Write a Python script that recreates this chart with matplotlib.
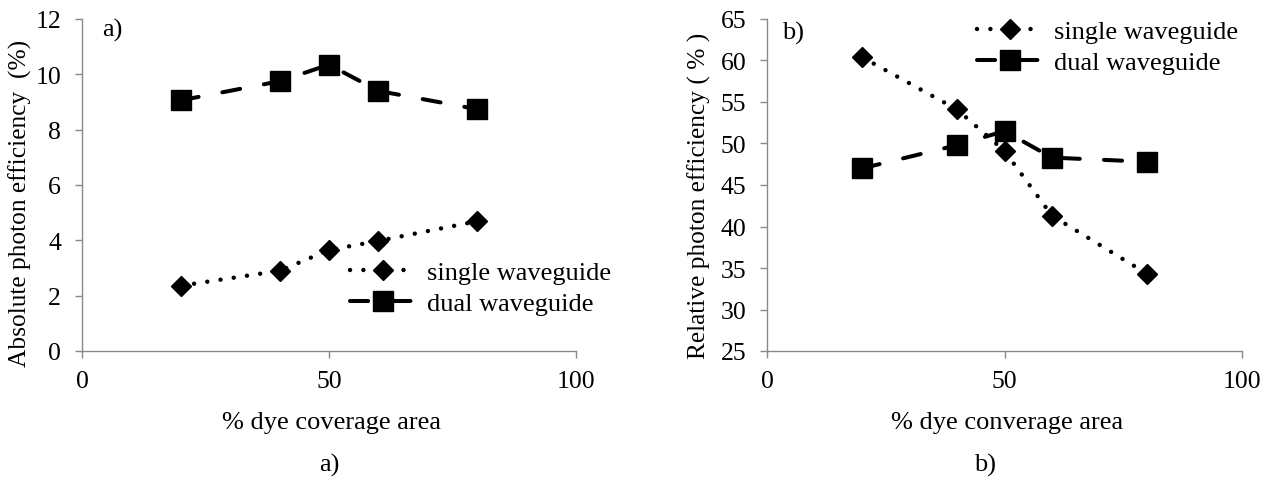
import matplotlib
matplotlib.use("Agg")
import matplotlib.pyplot as plt

plt.rcParams['font.family'] = ['Liberation Serif', 'DejaVu Serif']

coverage = [20, 40, 50, 60, 80]
abs_single = [2.36, 2.90, 3.65, 3.98, 4.69]
abs_dual = [9.06, 9.75, 10.35, 9.40, 8.74]
rel_single = [60.4, 54.1, 49.1, 41.3, 34.3]
rel_dual = [47.0, 49.8, 51.5, 48.3, 47.8]

W, H = 1269, 481
fig = plt.figure(figsize=(W / 100, H / 100), dpi=100)

TICK_FS = 18.5
LAB_FS = 19
YLAB_FS = 18.3
LEG_FS = 19
grey = '#898989'

def fx(px):
    return px / W

def fy(py):
    return 1 - py / H

def make_ax(l, r, t, b):
    return fig.add_axes([l / W, 1 - b / H, (r - l) / W, (b - t) / H])

def style(ax):
    for s in ['top', 'right']:
        ax.spines[s].set_visible(False)
    for s in ['left', 'bottom']:
        ax.spines[s].set_color(grey)
        ax.spines[s].set_linewidth(1.0)
    ax.tick_params(axis='both', colors=grey, labelcolor='black', labelsize=TICK_FS,
                   direction='out', length=5, width=1.0)
    ax.tick_params(axis='x', pad=9)
    ax.tick_params(axis='y', pad=10)

def plot(ax, single, dual):
    ax.plot(coverage, single, color='black', lw=3.2, linestyle=(0, (0.01, 3.0)),
            dash_capstyle='round', marker='D', markersize=10.5, label='single waveguide',
            zorder=3)
    ax.plot(coverage, dual, color='black', lw=2.9, linestyle=(0, (4.5, 6.0)),
            dash_capstyle='round', marker='s', markersize=14, label='dual waveguide',
            zorder=3)

def legend(ax, x, y):
    ax.legend(loc='upper left', bbox_to_anchor=(fx(x), fy(y)),
              bbox_transform=fig.transFigure, frameon=False, fontsize=LEG_FS,
              handlelength=2.5, handletextpad=0.42, labelspacing=0.27,
              borderpad=0, borderaxespad=0)

# panel a
ax1 = make_ax(82, 576, 20, 352)
plot(ax1, abs_single, abs_dual)
ax1.set_xlim(0, 100)
ax1.set_ylim(0, 12)
ax1.set_xticks([0, 50, 100])
ax1.set_yticks(range(0, 13, 2))
style(ax1)
fig.text(fx(331), fy(423), '% dye coverage area', fontsize=LAB_FS, ha='center', va='center')
fig.text(fx(20), fy(203), 'Absolute photon efficiency  (%)', fontsize=YLAB_FS,
         rotation=90, ha='center', va='center')
fig.text(fx(102), fy(30), 'a)', fontsize=LAB_FS, ha='left', va='center')
legend(ax1, 350, 262)

# panel b
ax2 = make_ax(767, 1242, 20, 352)
plot(ax2, rel_single, rel_dual)
ax2.set_xlim(0, 100)
ax2.set_ylim(25, 65)
ax2.set_xticks([0, 50, 100])
ax2.set_yticks(range(25, 66, 5))
style(ax2)
fig.text(fx(1007), fy(423), '% dye converage area', fontsize=LAB_FS, ha='center', va='center')
fig.text(fx(699), fy(196), 'Relative photon efficiency ( % )', fontsize=YLAB_FS,
         rotation=90, ha='center', va='center')
fig.text(fx(782), fy(33), 'b)', fontsize=LAB_FS, ha='left', va='center')
legend(ax2, 977, 21)

fig.text(fx(329), fy(465), 'a)', fontsize=LAB_FS, ha='center', va='center')
fig.text(fx(985), fy(465), 'b)', fontsize=LAB_FS, ha='center', va='center')

fig.savefig('out.png', dpi=100)
